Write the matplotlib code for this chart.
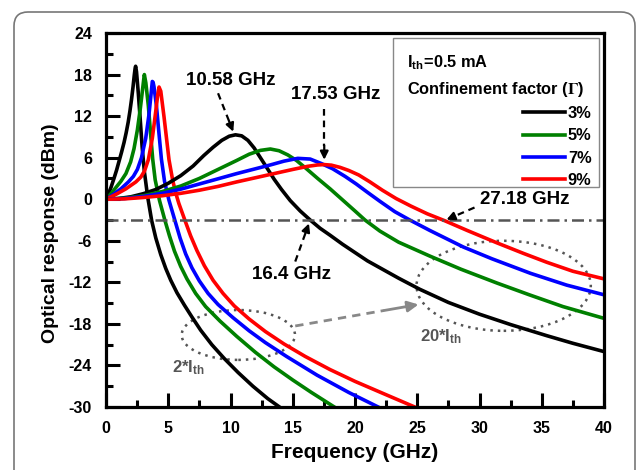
import matplotlib
matplotlib.use("Agg")
import matplotlib.pyplot as plt
from matplotlib.patches import Ellipse, FancyBboxPatch, Rectangle
from matplotlib.lines import Line2D
from matplotlib.transforms import IdentityTransform

plt.rcParams['font.family'] = ['Liberation Sans', 'DejaVu Sans']
plt.rcParams['font.weight'] = 'bold'
plt.rcParams['mathtext.fontset'] = 'stix'
plt.rcParams['axes.unicode_minus'] = False

labels = ['3%', '5%', '7%', '9%']
colors = ['#000000', '#008000', '#0000ff', '#ff0000']

# 2*Ith curves
f_low_3 = [0, 0.2, 0.4, 0.64, 0.85, 1.05, 1.25, 1.45, 1.62, 1.78, 1.92, 2.05, 2.17, 2.27, 2.34, 2.38,
           2.45, 2.6, 2.75, 2.9, 3.08, 3.35, 3.67, 4.0, 4.4, 4.8, 5.2, 5.7, 6.3, 6.9, 7.6, 8.5,
           9.5, 10.6, 11.8, 13.0, 14.4]
r_low_3 = [0, 0.8, 1.7, 3.0, 4.2, 5.5, 6.8, 8.2, 9.6, 11.1, 12.7, 14.4, 16.2, 17.9, 18.9, 19.2,
           18.4, 15.2, 11.5, 7.6, 4.0, 0.3, -3.1, -5.6, -8.0, -10.0, -11.7, -13.5, -15.3, -17.0, -18.9, -21.0,
           -23.0, -25.0, -27.0, -28.8, -30.6]
f_low_5 = [0, 0.4, 0.8, 1.2, 1.6, 1.98, 2.25, 2.52, 2.75, 2.92, 3.03, 3.08, 3.2, 3.4, 3.58, 3.75,
           3.95, 4.3, 4.74, 5.1, 5.5, 6.0, 6.5, 7.2, 8.0, 9.16, 10.5, 12.0, 13.5, 15.0, 16.5, 18.6]
r_low_5 = [0, 0.8, 1.7, 2.6, 3.7, 5.4, 7.3, 10.0, 13.0, 15.6, 17.3, 18.0, 16.8, 13.5, 9.5, 5.8,
           2.8, -0.2, -3.1, -5.3, -7.5, -9.7, -11.5, -13.6, -15.5, -17.6, -19.8, -22.1, -24.2, -26.1, -27.9, -30.3]
f_low_7 = [0, 0.6, 1.2, 1.8, 2.2, 2.52, 2.85, 3.19, 3.45, 3.62, 3.72, 3.78, 3.85, 4.05, 4.25, 4.45,
           4.7, 5.05, 5.54, 5.95, 6.4, 6.9, 7.5, 8.2, 9.0, 10.2, 11.5, 12.8, 14.5, 16.95, 19.5, 22.2]
r_low_7 = [0, 0.7, 1.5, 2.5, 3.3, 4.3, 6.0, 8.8, 12.2, 15.2, 17.0, 16.9, 16.3, 13.5, 9.6, 5.8,
           2.6, -0.1, -3.1, -5.6, -7.9, -9.9, -11.8, -13.6, -15.2, -17.1, -19.0, -20.7, -22.7, -25.4, -27.9, -30.3]
f_low_9 = [0, 0.8, 1.6, 2.4, 2.8, 3.1, 3.4, 3.72, 3.99, 4.15, 4.26, 4.4, 4.66, 5.06, 5.35, 5.6,
           5.85, 6.35, 6.8, 7.3, 7.9, 8.6, 9.4, 10.3, 11.5, 12.8, 14.3, 16.0, 18.0, 20.0, 22.2, 24.8, 25.2]
r_low_9 = [0, 0.7, 1.5, 2.5, 3.2, 4.1, 5.7, 8.8, 12.6, 15.0, 16.2, 15.6, 11.9, 5.7, 2.8, 0.9,
           -0.6, -3.1, -5.3, -7.4, -9.6, -11.7, -13.6, -15.4, -17.3, -19.1, -20.9, -22.7, -24.6, -26.3, -28.0, -30.0, -30.3]

# 20*Ith curves
f_high_3 = [0, 1, 2, 3, 4, 5, 6, 7, 7.85, 8.6, 9.3, 9.9, 10.4, 10.9, 11.4, 11.9, 12.4, 12.9, 13.5,
            14.1, 14.8, 15.6, 16.4, 17.2, 18.0, 19.0, 20.0, 21.0, 22.0, 23.5, 25.2, 27.5, 30.0, 32.5,
            35.4, 37.5, 40]
r_high_3 = [0, 0.1, 0.35, 0.8, 1.4, 2.3, 3.4, 4.8, 6.3, 7.5, 8.5, 9.1, 9.3, 9.15, 8.5, 7.4, 6.0, 4.6, 2.9,
            1.4, -0.2, -1.7, -3.0, -4.2, -5.2, -6.5, -7.7, -8.9, -9.9, -11.4, -13.0, -14.9, -16.6, -18.1,
            -19.7, -20.8, -22.0]
f_high_5 = [0, 1.5, 3, 4.5, 6, 7.5, 9.0, 10.5, 11.5, 12.4, 13.2, 13.9, 14.6, 15.3, 16.1, 17.0,
            18.0, 19.0, 20.0, 20.8, 22.0, 23.5, 26.0, 28.5, 31.4, 34.0, 36.7, 40]
r_high_5 = [0, 0.15, 0.5, 1.1, 1.9, 3.0, 4.3, 5.6, 6.5, 7.05, 7.25, 7.0, 6.4, 5.6, 4.4, 3.0,
            1.5, -0.1, -1.7, -3.0, -4.6, -6.2, -8.2, -10.1, -12.1, -13.8, -15.5, -17.2]
f_high_7 = [0, 1.5, 3, 4.5, 6, 7.5, 9.0, 10.5, 11.8, 13.2, 14.3, 15.4, 16.4, 17.3, 18.2, 19.2,
            20.1, 21.0, 22.0, 23.2, 24.4, 26.0, 28.7, 31.0, 34.1, 37.0, 40]
r_high_7 = [0, 0.1, 0.4, 0.85, 1.45, 2.2, 2.95, 3.7, 4.3, 4.95, 5.5, 5.9, 5.8, 5.15, 4.4, 3.3,
            2.2, 1.0, -0.3, -1.8, -3.0, -4.5, -6.9, -8.6, -10.7, -12.4, -13.8]
f_high_9 = [0, 1.5, 3, 4.5, 6, 7.5, 9.0, 10.5, 12.0, 13.5, 15.0, 16.2, 17.0, 17.53, 18.1, 18.8,
            19.5, 20.3, 21.2, 22.2, 23.3, 24.5, 25.8, 27.2, 29.0, 31.4, 33.5, 35.4, 37.5, 40]
r_high_9 = [0, 0.05, 0.25, 0.5, 0.85, 1.3, 1.85, 2.5, 3.1, 3.7, 4.3, 4.75, 4.95, 5.0, 4.92, 4.6,
            4.15, 3.5, 2.5, 1.3, 0.1, -1.0, -2.1, -3.1, -4.5, -6.3, -7.8, -9.1, -10.4, -11.5]

low = [(f_low_3, r_low_3), (f_low_5, r_low_5), (f_low_7, r_low_7), (f_low_9, r_low_9)]
high = [(f_high_3, r_high_3), (f_high_5, r_high_5), (f_high_7, r_high_7), (f_high_9, r_high_9)]

fig = plt.figure(figsize=(6.37, 4.70), dpi=100)
ax = fig.add_axes([106 / 637, 1 - 407 / 470, 498 / 637, 374 / 470])

# rounded frame around the figure
fig.patches.append(FancyBboxPatch((14, -30), 621, 488, boxstyle='round,pad=0,rounding_size=14',
                                  transform=IdentityTransform(), fill=False,
                                  edgecolor='#777777', linewidth=1.2))

for (f, r), c in zip(low, colors):
    ax.plot(f, r, color=c, lw=2.6, solid_joinstyle='round')
for (f, r), c in zip(high, colors):
    ax.plot(f, r, color=c, lw=2.6, solid_joinstyle='round')

ax.axhline(-3, color='#555555', lw=1.8, dashes=(4.8, 2, 1, 2))

ax.set_xlim(0, 40)
ax.set_ylim(-30, 24)
ax.set_xticks(range(0, 41, 5))
ax.set_xticks([2.5 + 5 * i for i in range(8)], minor=True)
ax.set_yticks(range(-30, 25, 6))
ax.set_yticks([-27 + 6 * i for i in range(9)], minor=True)
ax.tick_params(which='both', direction='in', top=False, right=False, labelsize=11.5)
ax.tick_params(which='major', length=10, width=2.2, pad=10)
ax.tick_params(which='minor', length=5, width=2.2)
for s in ax.spines.values():
    s.set_linewidth(2.3)

ax.set_xlabel('Frequency (GHz)', fontsize=15, fontweight='bold', labelpad=5)
ax.set_ylabel('Optical response (dBm)', fontsize=14, fontweight='bold')
ax.yaxis.set_label_coords(-0.094, 0.464)

# legend box
ax.add_patch(Rectangle((0.576, 0.588), 0.414, 0.399, transform=ax.transAxes,
                       fill=True, facecolor='white', edgecolor='#888888', lw=1.0, zorder=4))
ax.text(0.604, 0.920, r'I$_{\mathregular{th}}$=0.5 mA', transform=ax.transAxes,
        fontsize=11.8, va='center', ha='left', zorder=5)
ax.text(0.604, 0.848, r'Confinement factor ($\Gamma$)', transform=ax.transAxes,
        fontsize=11.8, va='center', ha='left', zorder=5)
handles = [Line2D([], [], color=c, lw=2.6) for c in colors]
leg = ax.legend(handles, labels, loc='upper right', bbox_to_anchor=(0.975, 0.805),
                frameon=False, fontsize=11.8, handlelength=2.55, handletextpad=0.2,
                labelspacing=0.45, borderaxespad=0, borderpad=0)
leg.set_zorder(6)

# annotations
def arrow(x0, y0, x1, y1, color='black', lw=1.6, head=12):
    fx = x0 + (x1 - x0) * 0.72
    fy = y0 + (y1 - y0) * 0.72
    ax.plot([x0, fx], [y0, fy], color=color, lw=lw, ls=(0, (3, 2.2)))
    ax.annotate('', xy=(x1, y1), xytext=(fx, fy),
                arrowprops=dict(arrowstyle='-|>', color=color, lw=lw,
                                mutation_scale=head, shrinkA=0, shrinkB=0))

ax.text(10.03, 17.2, '10.58 GHz', fontsize=13.5, ha='center', va='center')
arrow(9.0, 15.3, 10.22, 9.75)
ax.text(18.47, 15.05, '17.53 GHz', fontsize=13.5, ha='center', va='center')
arrow(17.53, 13.0, 17.53, 5.7)
ax.text(33.65, -0.1, '27.18 GHz', fontsize=13.5, ha='center', va='center')
arrow(29.6, -1.2, 27.35, -2.95)
ax.text(14.9, -10.9, '16.4 GHz', fontsize=13.5, ha='center', va='center')
arrow(15.2, -9.0, 16.3, -3.5)

ax.add_patch(Ellipse((10.63, -19.6), 9.1, 7.2, fill=False, ls=(0, (1, 2)),
                     lw=1.8, edgecolor='#555555'))
ax.add_patch(Ellipse((31.94, -12.5), 14.0, 13.0, fill=False, ls=(0, (1, 2)),
                     lw=1.8, edgecolor='#555555'))
arrow(15.2, -18.3, 25.1, -15.2, color='#888888', lw=2.0, head=16)
ax.text(5.28, -24.4, r'2*I$_{\mathregular{th}}$', fontsize=12, color='#555555',
        ha='left', va='center')
ax.text(25.2, -19.85, r'20*I$_{\mathregular{th}}$', fontsize=12, color='#555555',
        ha='left', va='center')

fig.savefig('out.png', dpi=100)
